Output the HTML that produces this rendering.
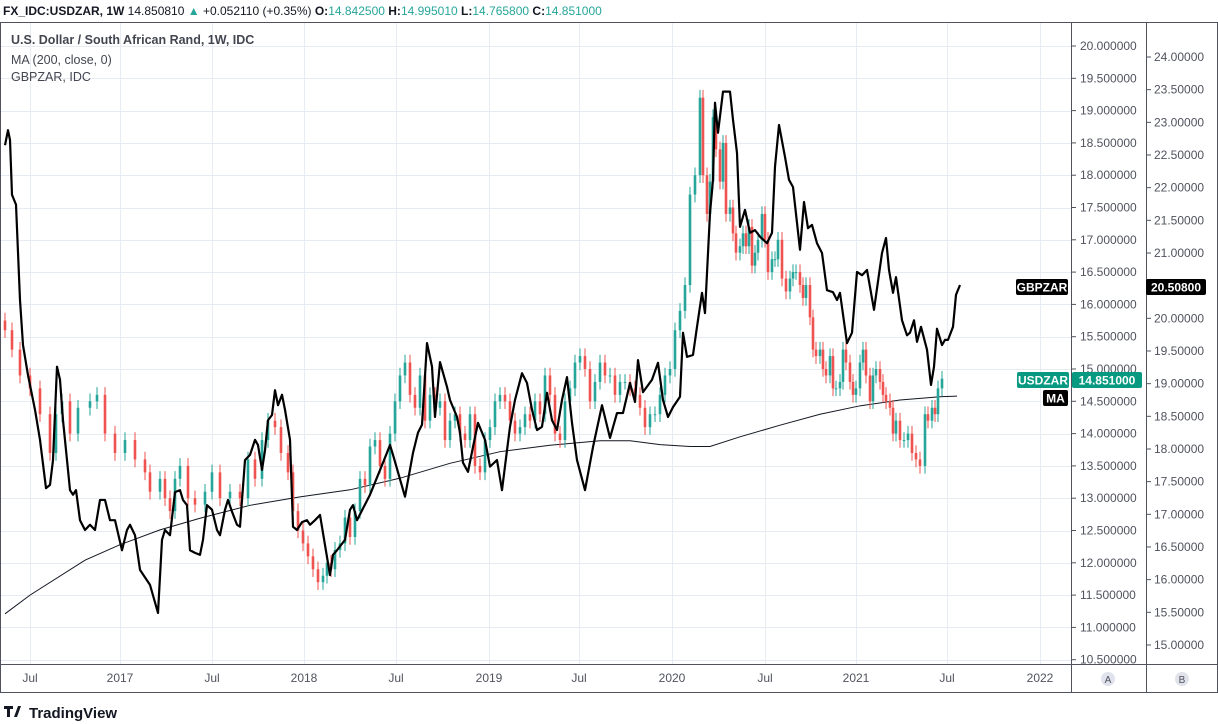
<!DOCTYPE html>
<html><head><meta charset="utf-8">
<style>
body{margin:0;background:#fff;width:1218px;height:724px;overflow:hidden;font-family:"Liberation Sans",sans-serif;}
svg{display:block}
</style></head>
<body>
<svg id="c" width="1218" height="724" xmlns="http://www.w3.org/2000/svg"></svg>
<script>
// ---- data ----
// time in days since mid-May 2016
const candleDays=[0,14,30,50,70,90,102,114,130,146,170,184,200,220,240,260,280,290,310,320,330,340,350,366,380,400,414,430,450,470,486,500,514,526,540,552,566,576,586,596,606,616,626,636,644,652,660,670,680,690,700,710,720,730,740,750,760,770,780,790,800,810,820,830,840,850,860,870,880,890,900,910,920,930,940,950,960,970,980,990,1000,1010,1020,1030,1040,1050,1060,1070,1080,1090,1100,1110,1120,1130,1140,1150,1160,1170,1180,1190,1200,1210,1220,1230,1240,1250,1260,1270,1280,1290,1300,1310,1320,1330,1340,1350,1360,1370,1380,1390,1396,1404,1410,1416,1422,1430,1436,1442,1450,1456,1462,1470,1476,1482,1488,1494,1500,1506,1514,1520,1526,1534,1540,1546,1554,1562,1570,1576,1582,1590,1596,1602,1610,1616,1622,1630,1636,1642,1650,1656,1662,1670,1676,1682,1690,1696,1702,1710,1716,1722,1730,1736,1742,1750,1756,1762,1770,1776,1782,1790,1798,1806,1814,1822,1830,1840,1846,1854,1860,1866,1874,1882,1890,1898,1904];
const closes=[15.6,15.3,14.9,14.7,14.3,13.7,14.3,14.5,14.0,14.4,14.5,14.6,14.0,13.7,13.9,13.6,13.4,13.1,13.3,13.0,12.8,13.3,13.5,13.0,12.9,13.1,13.4,13.0,13.1,13.0,13.6,13.3,13.9,14.2,14.1,13.7,13.4,12.8,12.5,12.3,12.1,11.9,11.7,11.8,12.0,11.9,12.2,12.3,12.7,12.4,12.8,13.3,13.2,13.8,13.9,13.5,13.3,14.0,14.5,14.9,15.1,14.6,14.4,14.9,14.2,14.6,14.4,14.5,13.9,14.2,14.3,14.0,13.9,14.3,13.5,13.4,13.9,14.1,14.5,14.6,14.5,14.2,14.0,14.1,14.3,14.2,14.5,14.3,14.9,14.6,14.0,13.9,14.5,14.7,15.1,15.2,15.0,14.5,14.8,15.1,14.9,14.9,14.6,14.8,14.8,14.7,14.6,14.4,14.1,14.3,14.3,14.6,14.9,15.0,15.6,15.9,16.3,17.7,18.0,19.2,18.0,17.4,17.9,18.9,18.4,17.9,18.5,17.4,17.5,17.1,16.8,16.9,17.1,16.9,17.2,16.6,16.8,17.0,17.4,17.0,16.5,16.7,16.7,17.0,16.4,16.2,16.4,16.5,16.5,16.3,16.1,16.3,15.8,15.3,15.2,15.3,15.0,14.9,15.2,14.7,14.7,14.8,15.3,15.1,14.8,14.6,14.7,15.1,15.3,14.9,14.5,14.9,15.0,14.8,14.6,14.5,14.4,14.0,14.2,13.9,13.9,14.0,13.7,13.6,13.5,14.3,14.2,14.4,14.3,14.7,14.85];
const maDays=[0,50,160,230,310,390,490,590,690,790,890,990,1090,1190,1250,1310,1370,1410,1470,1550,1630,1710,1790,1870,1904];
const maVals=[11.21,11.5,12.04,12.28,12.51,12.69,12.89,13.02,13.13,13.31,13.54,13.72,13.82,13.89,13.89,13.83,13.80,13.80,13.95,14.13,14.30,14.43,14.52,14.57,14.58];
const gbpDays=[0,6,10,14,22,30,36,46,60,70,82,90,96,104,110,116,124,130,136,142,150,160,170,180,190,200,210,220,234,244,250,260,270,290,306,314,320,330,340,350,356,364,370,380,390,396,404,414,424,430,440,446,454,464,470,480,490,500,506,514,520,526,534,540,546,554,560,570,576,584,594,604,610,620,630,640,650,656,664,672,680,690,696,704,730,756,770,776,800,816,826,834,844,854,860,870,884,890,904,910,916,926,936,946,960,970,984,994,1004,1010,1020,1034,1044,1054,1064,1074,1084,1094,1104,1114,1124,1134,1144,1160,1176,1194,1210,1224,1236,1250,1260,1266,1276,1294,1306,1316,1326,1336,1350,1356,1364,1376,1384,1394,1400,1410,1416,1420,1426,1436,1450,1456,1464,1470,1480,1490,1500,1510,1524,1534,1540,1548,1560,1568,1576,1590,1598,1606,1614,1624,1634,1644,1656,1664,1670,1684,1694,1704,1714,1724,1738,1754,1762,1768,1776,1782,1794,1804,1810,1818,1824,1832,1844,1852,1858,1864,1874,1880,1886,1896,1902,1910];
const gbpVals=[22.65,22.88,22.73,21.89,21.74,20.28,19.59,19.13,18.6,18.14,17.40,17.45,17.83,19.26,19.06,18.44,17.83,17.37,17.30,17.37,16.91,16.76,16.84,16.76,17.22,17.22,16.91,16.91,16.45,16.76,16.84,16.68,16.15,15.92,15.49,16.61,16.76,16.68,17.34,17.37,17.22,17.14,16.45,16.41,16.38,16.61,17.14,17.07,16.76,16.68,17.07,17.22,17.04,16.84,16.81,17.83,17.91,18.14,18.06,17.68,17.98,18.44,18.52,18.90,18.67,18.83,18.60,18.14,16.81,16.76,16.88,16.91,16.84,16.91,16.99,16.53,16.07,16.38,16.45,16.53,16.61,17.07,17.14,16.91,17.30,17.79,18.06,17.91,17.27,17.94,18.25,18.37,19.62,19.26,18.49,19.33,18.95,18.75,18.49,18.25,17.79,17.65,18.03,18.40,18.14,17.73,17.83,17.37,17.98,18.34,18.75,19.16,19.01,18.6,18.29,18.34,18.86,18.44,18.29,18.75,19.10,18.40,17.83,17.37,18.03,18.67,18.17,18.55,18.55,19.01,18.72,19.36,18.87,19.06,19.32,18.75,18.49,18.64,18.80,19.78,19.41,19.44,19.87,20.39,20.08,21.61,22.12,23.30,22.84,23.47,23.47,23.04,22.53,21.40,21.66,21.31,21.35,21.25,21.15,21.31,22.32,22.96,22.47,22.12,22.01,21.05,21.78,21.38,21.43,21.15,21.0,20.43,20.40,20.28,20.39,19.62,19.78,20.71,20.66,20.74,20.13,21.0,21.23,20.74,20.39,20.63,19.97,19.74,19.78,19.97,19.64,19.87,19.52,18.98,19.26,19.84,19.59,19.67,19.67,19.87,20.36,20.51];
const usdTicks=["20.000000","19.500000","19.000000","18.500000","18.000000","17.500000","17.000000","16.500000","16.000000","15.500000","15.000000","14.500000","14.000000","13.500000","13.000000","12.500000","12.000000","11.500000","11.000000","10.500000"];
const gbpTicks=["24.00000","23.50000","23.00000","22.50000","22.00000","21.50000","21.00000","20.50000","20.00000","19.50000","19.00000","18.50000","18.00000","17.50000","17.00000","16.50000","16.00000","15.50000","15.00000"];
const timeLabels=["Jul","2017","Jul","2018","Jul","2019","Jul","2020","Jul","2021","Jul","2022"];
const timeDays=[50,230,414,598,782,968,1148,1334,1520,1702,1884,2070];

// ---- scales ----
const X=d=>5+d/2;
const YU=v=>46+(20-v)*64.6;
const YG=v=>57+(24-v)*65.33;
const NS="http://www.w3.org/2000/svg";
const svg=document.getElementById('c');
function mk(t,a,p){const e=document.createElementNS(NS,t);for(const k in a)e.setAttribute(k,a[k]);(p||svg).appendChild(e);return e;}

// header
let h=mk('text',{x:3,y:15,'font-size':12,fill:'#131722'});


h.innerHTML='<tspan font-weight="bold">FX_IDC:USDZAR, 1W</tspan> 14.850810 <tspan fill="#26a69a">▲</tspan> +0.052110 (+0.35%) <tspan font-weight="bold">O:</tspan><tspan fill="#26a69a">14.842500</tspan> <tspan font-weight="bold">H:</tspan><tspan fill="#26a69a">14.995010</tspan> <tspan font-weight="bold">L:</tspan><tspan fill="#26a69a">14.765800</tspan> <tspan font-weight="bold">C:</tspan><tspan fill="#26a69a">14.851000</tspan>';

// frame
let fr=mk('rect',{x:0.5,y:22.5,width:1217,height:670,fill:'none',stroke:'#50535e','stroke-width':1});



// grid
const g=mk('g',{stroke:'#e6ecf2','stroke-width':1});


usdTicks.forEach(t=>{const y=Math.round(YU(parseFloat(t)))+0.5;mk('line',{x1:1,x2:1071,y1:y,y2:y},g);});
timeDays.forEach(d=>{const x=Math.round(X(d))+0.5;if(x<1071)mk('line',{x1:x,x2:x,y1:23,y2:664},g);});

// axes
const ax=mk('g',{stroke:'#50535e','stroke-width':1});


mk('line',{x1:1071.5,x2:1071.5,y1:23,y2:692},ax);
mk('line',{x1:1146.5,x2:1146.5,y1:23,y2:692},ax);
mk('line',{x1:1,x2:1218,y1:664.5,y2:664.5},ax);

usdTicks.forEach(t=>{const y=YU(parseFloat(t));
 mk('line',{x1:1072,x2:1076,y1:y,y2:y,stroke:'#50535e'});
 const e=mk('text',{x:1080,y:y+4,'font-size':12,fill:'#50535e'});e.textContent=t;
 
 });
gbpTicks.forEach(t=>{const y=YG(parseFloat(t));
 mk('line',{x1:1147,x2:1151,y1:y,y2:y,stroke:'#50535e'});
 const e=mk('text',{x:1154,y:y+4,'font-size':12,fill:'#50535e'});e.textContent=t;
 
 });
timeLabels.forEach((t,i)=>{const x=X(timeDays[i]);
 const e=mk('text',{x:x,y:682,'font-size':12,fill:'#50535e','text-anchor':'middle'});e.textContent=t;
 
 });

// MA
let pts=maDays.map((d,i)=>X(d)+','+YU(maVals[i])).join(' ');
let ma=mk('polyline',{points:pts,fill:'none',stroke:'#131722','stroke-width':1});



// candles
const cg=mk('g',{});


let prev=15.75;
closes.forEach((c,i)=>{
 const o=prev;prev=c;const up=c>=o;const col=up?'#26a69a':'#ef5350';
 const x=X(candleDays[i]);const hi=Math.max(o,c)+0.12,lo=Math.min(o,c)-0.12;
 mk('line',{x1:x,x2:x,y1:YU(hi),y2:YU(lo),stroke:col,'stroke-width':1},cg);
 const yt=YU(Math.max(o,c)),yb=YU(Math.min(o,c));
 const r=mk('rect',{x:x-1.3,y:yt,width:2.6,height:Math.max(1,yb-yt),fill:col},cg);
 
 
});

// GBPZAR
pts=gbpDays.map((d,i)=>X(d)+','+YG(gbpVals[i])).join(' ');
let gl=mk('polyline',{points:pts,fill:'none',stroke:'#000','stroke-width':2.2,'stroke-linejoin':'round'});



// legend
[['U.S. Dollar / South African Rand, 1W, IDC',44,'bold','legend-title'],['MA (200, close, 0)',64,'normal','legend-ma'],['GBPZAR, IDC',81,'normal','legend-gbpzar']].forEach(a=>{
 const e=mk('text',{x:11,y:a[1],'font-size':12.5,fill:'#434651','font-weight':a[2]});e.textContent=a[0];
 
 });

// price labels
function lab(x,y,w,txt,bg,name){const gg=mk('g',{});
 
 
 mk('rect',{x:x,y:y-8,width:w,height:16,rx:2,fill:bg},gg);
 const t=mk('text',{x:x+w/2,y:y+4.5,'font-size':12,'font-weight':'bold',fill:'#fff','text-anchor':'middle'},gg);t.textContent=txt;}
lab(1016,287,52,'GBPZAR','#000','gbpzar-tag');
lab(1146,287,60,'20.50800','#000','gbpzar-price-tag');
lab(1017,380,52,'USDZAR','#089981','usdzar-tag');
lab(1072,380,70,'14.851000','#089981','usdzar-price-tag');
lab(1043,398,25,'MA','#000','ma-tag');

// A/B buttons
[['A',1108],['B',1182]].forEach(a=>{const gg=mk('g',{});
 
 
 mk('circle',{cx:a[1],cy:679,r:7,fill:'#e0e3eb'},gg);
 const t=mk('text',{x:a[1],y:683,'font-size':10,fill:'#50535e','text-anchor':'middle'},gg);t.textContent=a[0];});

// logo
const lg=mk('g',{});


mk('path',{d:'M4 706h9v3h-3v8h-3v-8h-3z M14 717l4-11h3l-4 11z',fill:'#131722'},lg);
const lt=mk('text',{x:29,y:718,'font-size':15,'font-weight':'bold',fill:'#131722'},lg);lt.textContent='TradingView';
</script>
</body></html>
